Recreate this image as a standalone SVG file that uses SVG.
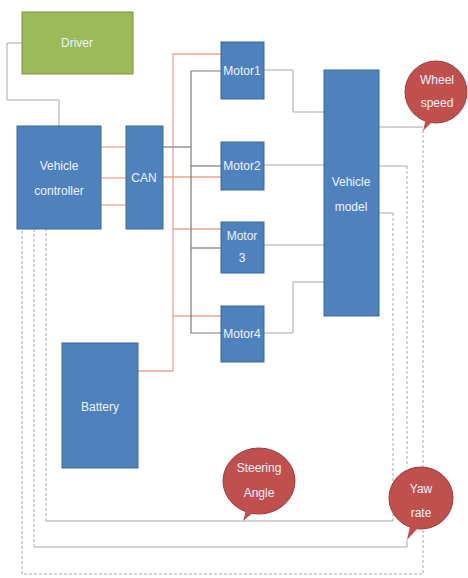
<svg xmlns="http://www.w3.org/2000/svg" width="468" height="578" viewBox="0 0 468 578">
<style>
.box{fill:#4F81BD;stroke:#3A679C;stroke-width:1}
.grn{fill:#9BBB59;stroke:#7A9440;stroke-width:1}
.bub{fill:#C0504D;stroke:#9A3B38;stroke-width:1}
.tail{fill:#C0504D}
.t{font-family:"Liberation Sans","DejaVu Sans",sans-serif;font-size:12px;fill:#EEF2FA;text-anchor:middle}
.dk{fill:none;stroke:#7A7A7A;stroke-width:1.2}
.rd{fill:none;stroke:#EDA58E;stroke-width:1.3}
.lg{fill:none;stroke:#A8A8A8;stroke-width:1}
.ds{fill:none;stroke:#A8A8A8;stroke-width:1;stroke-dasharray:3 2}
</style>
<rect width="468" height="578" fill="#ffffff"/>
<g id="connectors">
  <polyline class="lg" points="22,43 7,43 7,100 59,100 59,126"/>
  <line class="rd" x1="101" y1="147" x2="126" y2="147"/>
  <line class="rd" x1="101" y1="178" x2="126" y2="178"/>
  <line class="rd" x1="101" y1="205" x2="126" y2="205"/>
  <polyline class="rd" points="221,54 173,54 173,371 138,371"/>
  <line class="rd" x1="163" y1="177" x2="221" y2="177"/>
  <line class="rd" x1="173" y1="229" x2="221" y2="229"/>
  <line class="rd" x1="173" y1="316" x2="221" y2="316"/>
  <polyline class="dk" points="163,147 191,147"/>
  <polyline class="dk" points="221,71 191,71 191,333 221,333"/>
  <line class="dk" x1="191" y1="166" x2="221" y2="166"/>
  <line class="dk" x1="191" y1="248" x2="221" y2="248"/>
  <polyline class="lg" points="264,70 293,70 293,112 324,112"/>
  <line class="lg" x1="264" y1="165" x2="324" y2="165"/>
  <line class="lg" x1="264" y1="245" x2="324" y2="245"/>
  <polyline class="lg" points="264,333 293,333 293,282 324,282"/>
  <polyline class="lg" points="379,127 423,127"/>
  <polyline class="lg" points="379,166 407,166"/>
  <polyline class="lg" points="379,213 393,213"/>
  <polyline class="ds" points="423,130 423,574 22,574 22,229"/>
  <polyline class="ds" points="407,166 407,467"/>
  <polyline class="lg" points="407,540 407,547 34,547"/>
  <polyline class="ds" points="34,547 34,229"/>
  <polyline class="ds" points="393,213 393,521"/>
  <polyline class="lg" points="393,521 46,521"/>
  <polyline class="ds" points="46,521 46,229"/>
</g>
<g id="driver"><rect class="grn" x="22" y="12" width="111" height="62"/><text class="t" x="77" y="47">Driver</text></g>
<g id="vehicle-controller"><rect class="box" x="17" y="126" width="84" height="103"/><text class="t" x="59" y="170">Vehicle</text><text class="t" x="59" y="195">controller</text></g>
<g id="can"><rect class="box" x="126" y="126" width="37" height="103"/><text class="t" x="144" y="182">CAN</text></g>
<g id="motor1"><rect class="box" x="221" y="42" width="43" height="57"/><text class="t" x="242" y="75">Motor1</text></g>
<g id="motor2"><rect class="box" x="221" y="142" width="43" height="48"/><text class="t" x="242" y="170">Motor2</text></g>
<g id="motor3"><rect class="box" x="221" y="222" width="43" height="51"/><text class="t" x="242" y="240">Motor</text><text class="t" x="242" y="262">3</text></g>
<g id="motor4"><rect class="box" x="221" y="306" width="43" height="56"/><text class="t" x="242" y="338">Motor4</text></g>
<g id="vehicle-model"><rect class="box" x="324" y="70" width="55" height="246"/><text class="t" x="351" y="186">Vehicle</text><text class="t" x="351" y="211">model</text></g>
<g id="battery"><rect class="box" x="62" y="343" width="76" height="125"/><text class="t" x="100" y="411">Battery</text></g>
<g id="wheel-speed"><circle class="bub" cx="436" cy="92" r="31"/><polygon class="tail" points="426,118 423,131 433,121"/><text class="t" x="437" y="84">Wheel</text><text class="t" x="437" y="107">speed</text></g>
<g id="steering-angle"><ellipse class="bub" cx="259" cy="481" rx="36" ry="33"/><polygon class="tail" points="246,510 243,521 254,512"/><text class="t" x="259" y="472">Steering</text><text class="t" x="259" y="497">Angle</text></g>
<g id="yaw-rate"><ellipse class="bub" cx="421" cy="498" rx="32" ry="31"/><polygon class="tail" points="410,526 407,540 418,528"/><text class="t" x="421" y="493">Yaw</text><text class="t" x="421" y="517">rate</text></g>
</svg>
